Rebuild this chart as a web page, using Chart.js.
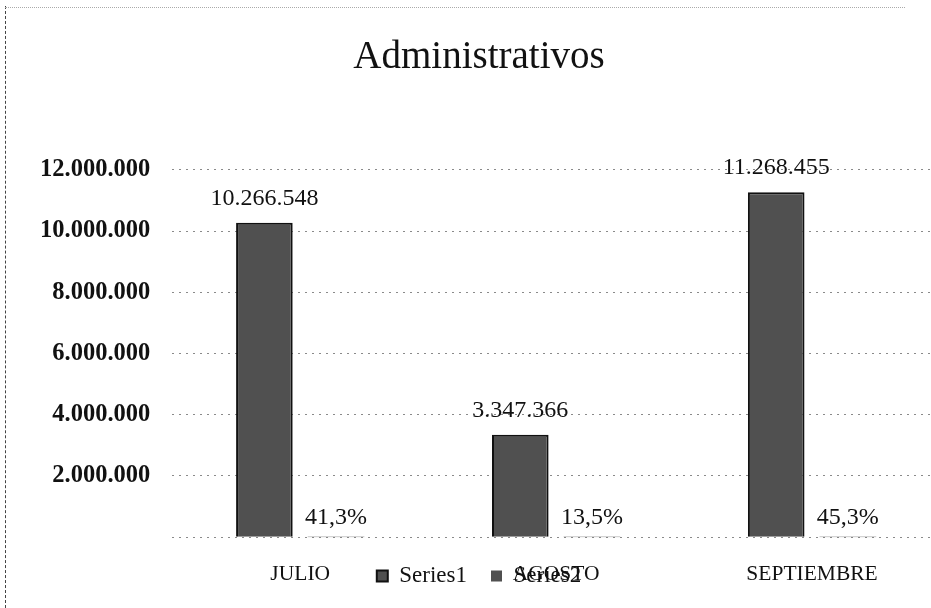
<!DOCTYPE html>
<html>
<head>
<meta charset="utf-8">
<script src="https://cdn.jsdelivr.net/npm/chart.js@4.4.1/dist/chart.umd.min.js"></script>
<style>
  html, body { margin: 0; padding: 0; background: #fff; overflow: hidden; }
  .wrap { position: relative; width: 940px; height: 608px; }
  .wrap::before { content: ''; position: absolute; left: 5px; top: 6px; bottom: 0; border-left: 1px dashed #444; }
  .wrap::after { content: ''; position: absolute; left: 5px; top: 7px; width: 900px; border-top: 1px dotted #aaa; }
</style>
</head>
<body>
<div class="wrap"><canvas class="admin" width="940" height="608"></canvas></div>
<script>
const months = ['JULIO', 'AGOSTO', 'SEPTIEMBRE'];
const series1 = [10266548, 3347366, 11268455];
const series2 = [0.413, 0.135, 0.453];
const yTicks = [0, 2000000, 4000000, 6000000, 8000000, 10000000, 12000000];

const serif = "'Liberation Serif', 'DejaVu Serif', serif";

function miles(n) {
  return String(Math.round(n)).replace(/\B(?=(\d{3})+(?!\d))/g, '.');
}
function pct(v) {
  return (v * 100).toFixed(1).replace('.', ',') + '%';
}

// labels on top of each bar
const barLabels = {
  id: 'barLabels',
  afterDatasetsDraw(chart) {
    const ctx = chart.ctx;
    ctx.save();
    ctx.fillStyle = '#111';
    ctx.textAlign = 'center';
    ctx.textBaseline = 'middle';
    ctx.font = '24px ' + serif;
    chart.data.datasets.forEach(function (ds, i) {
      chart.getDatasetMeta(i).data.forEach(function (bar, j) {
        const txt = i === 0 ? miles(ds.data[j]) : pct(ds.data[j]);
        const off = i === 0 ? 24 : 19;
        ctx.fillText(txt, bar.x, bar.y - off);
      });
    });
    ctx.restore();
  }
};

// the legend sits on the same line as the month names
const moveLegend = {
  id: 'moveLegend',
  beforeDraw(chart) {
    const lg = chart.legend;
    if (!lg) return;
    const pad = lg.options.labels.padding;
    lg.top = 576 - pad - 11.5;
    lg.bottom = lg.top + 80;
    lg.left = 479 - 470;
    lg.right = 479 + 470;
  }
};

document.addEventListener('DOMContentLoaded', function () {
  const canvas = document.getElementsByClassName('admin')[0];
  const config = {
    type: 'bar',
    data: {
      labels: months,
      datasets: [
        { label: 'Series1', data: series1, backgroundColor: '#505050', borderColor: '#111', borderWidth: 2 },
        { label: 'Series2', data: series2, backgroundColor: '#505050', borderColor: '#111', borderWidth: 0 }
      ]
    },
    options: {
      responsive: false,
      animation: false,
      layout: { padding: { left: 18, right: 0, top: 0, bottom: 4 } },
      datasets: { bar: { categoryPercentage: 0.56, barPercentage: 0.79 } },
      plugins: {
        title: {
          display: true,
          text: 'Administrativos',
          color: '#111',
          font: { family: serif, size: 39, weight: 'normal' },
          padding: { top: 34, bottom: 89 }
        },
        legend: {
          position: 'bottom',
          maxHeight: 1,
          labels: {
            color: '#111',
            font: { family: serif, size: 23 },
            boxWidth: 11,
            boxHeight: 11,
            padding: 24
          }
        },
        tooltip: { enabled: false }
      },
      scales: {
        x: {
          grid: { display: false },
          border: { display: false },
          ticks: { color: '#111', padding: 16, font: { family: serif, size: 21.5 } }
        },
        y: {
          min: 0,
          max: 12000000,
          afterBuildTicks(axis) { axis.ticks = yTicks.map(v => ({ value: v })); },
          grid: { color: '#8a8a8a', lineWidth: 1, drawTicks: false, borderDash: [2, 5] },
          border: { display: false, dash: [2, 5] },
          ticks: {
            color: '#111',
            padding: 22,
            font: { family: serif, size: 24.5, weight: 'bold' },
            callback: v => v === 0 ? '' : miles(v)
          }
        }
      }
    },
    plugins: [barLabels, moveLegend]
  };
  new Chart(canvas, config);
});
</script>
</body>
</html>
